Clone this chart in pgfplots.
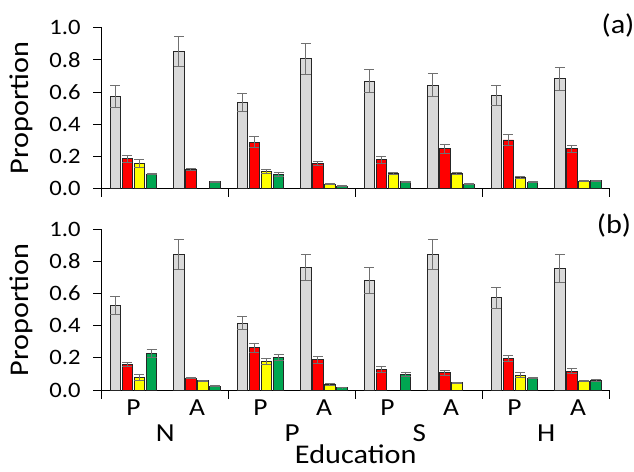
\documentclass[border=0pt]{standalone}
\usepackage{pgfplots}
\pgfplotsset{compat=1.18}
\usepackage{pgfplotstable}
\usepackage{fontspec}
\setmainfont{Carlito}[FakeStretch=1.12]

\definecolor{cgray}{HTML}{D9D9D9}
\definecolor{cred}{HTML}{FF0000}
\definecolor{cyel}{HTML}{FFFF00}
\definecolor{cgrn}{HTML}{00A651}
\definecolor{cerr}{HTML}{707070}

% panel (a)
\pgfplotstableread{
k gv ge rv re yv ye nv ne
0 0.570 0.067 0.184 0.021 0.153 0.025 0.089 0.005
1 0.851 0.093 0.116 0.005 nan nan 0.041 0.003
2 0.535 0.058 0.286 0.035 0.106 0.012 0.085 0.012
3 0.807 0.096 0.156 0.012 0.027 0.004 0.014 0.003
4 0.668 0.069 0.178 0.023 0.095 0.006 0.041 0.003
5 0.643 0.073 0.245 0.026 0.095 0.006 0.027 0.003
6 0.579 0.064 0.301 0.035 0.068 0.005 0.037 0.003
7 0.681 0.070 0.245 0.020 0.045 0.004 0.047 0.004
}\dataA

% panel (b)
\pgfplotstableread{
k gv ge rv re yv ye nv ne
0 0.525 0.058 0.160 0.013 0.079 0.017 0.229 0.025
1 0.842 0.093 0.075 0.004 0.058 0.004 0.023 0.002
2 0.417 0.043 0.263 0.027 0.177 0.017 0.204 0.019
3 0.763 0.081 0.188 0.020 0.035 0.004 0.015 0.002
4 0.683 0.080 0.129 0.017 nan nan 0.096 0.012
5 0.842 0.093 0.108 0.015 0.044 0.003 nan nan
6 0.575 0.065 0.196 0.021 0.092 0.014 0.073 0.004
7 0.756 0.088 0.117 0.014 0.054 0.004 0.060 0.004
}\dataB

\pgfplotsset{
  panel/.style={
    scale only axis, width=508pt, height=160.6pt,
    xmin=-0.5, xmax=7.5, ymin=0, ymax=1,
    clip=false,
    axis lines*=left,
    axis line style={black, line width=0.8pt},
    ybar, bar width=0.165,
    tick align=outside,
    major tick length=8.5pt,
    tick style={black, line width=0.8pt},
    xtick={-0.5,1.5,3.5,5.5,7.5}, xticklabels={},
    ytick={0,0.2,0.4,0.6,0.8,1},
    /pgf/number format/assume math mode=true,
    yticklabel style={/pgf/number format/.cd, fixed, fixed zerofill, precision=1, /tikz/.cd,
      font=\fontsize{22}{26}\selectfont, xshift=-9pt},
    ylabel={Proportion},
    ylabel style={at={(axis description cs:-0.1445,0.5)}, anchor=base,
      font=\fontsize{27}{32}\selectfont},
    unbounded coords=discard,
  },
  barstyle/.style={draw=black!85, line width=0.9pt, fill=#1},
  errstyle/.style={error bars/.cd, y dir=both, y explicit,
    error bar style={cerr, line width=1pt},
    error mark options={cerr, line width=1pt, rotate=90, mark size=5pt}},
}

\begin{document}
\begin{tikzpicture}
\path[use as bounding box] (0,0) rectangle (634pt,471pt);

% ---------- panel (a) ----------
\begin{axis}[panel, at={(101.7pt,282.7pt)}, anchor=south west]
\addplot[barstyle=cgray, bar shift=-0.285, errstyle] table[x=k, y=gv, y error=ge] {\dataA};
\addplot[barstyle=cred,  bar shift=-0.095, errstyle] table[x=k, y=rv, y error=re] {\dataA};
\addplot[barstyle=cyel,  bar shift=0.095,  errstyle] table[x=k, y=yv, y error=ye] {\dataA};
\addplot[barstyle=cgrn,  bar shift=0.285,  errstyle] table[x=k, y=nv, y error=ne] {\dataA};
\end{axis}

% ---------- panel (b) ----------
\begin{axis}[panel, at={(101.7pt,81pt)}, anchor=south west,
    extra x ticks={0,1,2,3,4,5,6,7},
    extra x tick labels={P,A,P,A,P,A,P,A},
    extra x tick style={major tick length=0pt,
      tick label style={anchor=base, yshift=-25.5pt, font=\fontsize{24.5}{29}\selectfont}},
  ]
\addplot[barstyle=cgray, bar shift=-0.285, errstyle] table[x=k, y=gv, y error=ge] {\dataB};
\addplot[barstyle=cred,  bar shift=-0.095, errstyle] table[x=k, y=rv, y error=re] {\dataB};
\addplot[barstyle=cyel,  bar shift=0.095,  errstyle] table[x=k, y=yv, y error=ye] {\dataB};
\addplot[barstyle=cgrn,  bar shift=0.285,  errstyle] table[x=k, y=nv, y error=ne] {\dataB};
\node[anchor=base, font=\fontsize{26}{31}\selectfont] at (axis cs:0.5,0) [yshift=-51.7pt] {N};
\node[anchor=base, font=\fontsize{26}{31}\selectfont] at (axis cs:2.5,0) [yshift=-51.7pt] {P};
\node[anchor=base, font=\fontsize{26}{31}\selectfont] at (axis cs:4.5,0) [yshift=-51.7pt] {S};
\node[anchor=base, font=\fontsize{26}{31}\selectfont] at (axis cs:6.5,0) [yshift=-51.7pt] {H};
\node[anchor=base, font=\fontsize{27}{32}\selectfont] at (axis cs:3.5,0) [yshift=-73.3pt] {Education};
\end{axis}

\node[font=\fontsize{27}{32}\selectfont] at (618pt,445pt) {(a)};
\node[font=\fontsize{27}{32}\selectfont] at (614pt,245pt) {(b)};
\end{tikzpicture}
\end{document}
